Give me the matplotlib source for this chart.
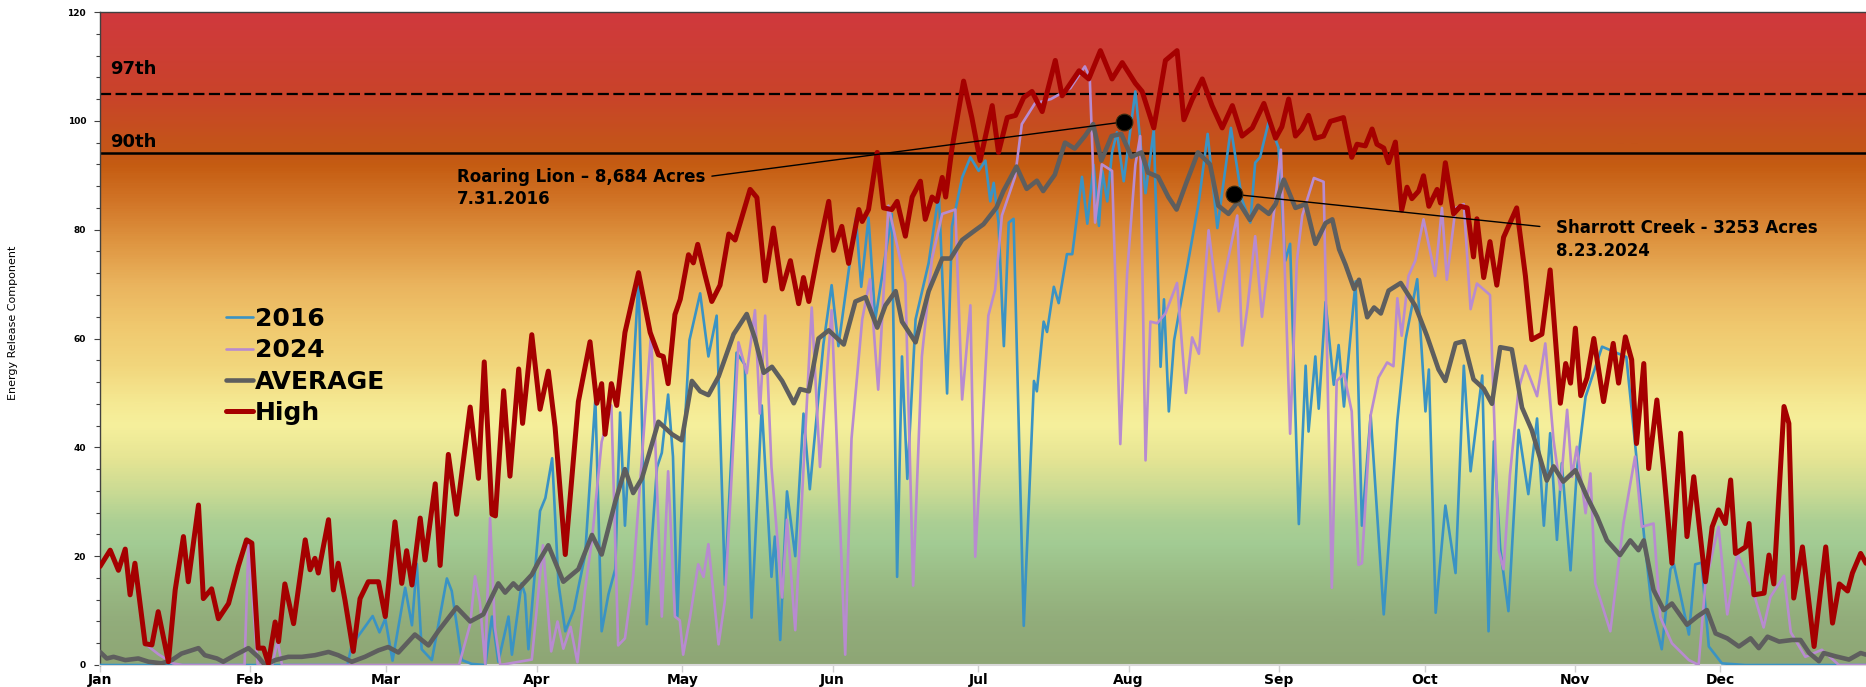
import matplotlib
matplotlib.use('Agg')
import matplotlib.pyplot as plt
import numpy as np
from matplotlib.colors import LinearSegmentedColormap
from matplotlib.ticker import MultipleLocator

# x axis: day of year (0 = Jan 1)
MONTH_STARTS = [0, 31, 59, 90, 120, 151, 181, 212, 243, 273, 304, 334]
MONTHS = ['Jan', 'Feb', 'Mar', 'Apr', 'May', 'Jun', 'Jul', 'Aug', 'Sep', 'Oct', 'Nov', 'Dec']

HIGH_DAYS = [0, 2.1, 3.8, 5.2, 6.2, 7.2, 9.3, 10.7, 12.0, 14.1, 15.5, 17.2, 18.2, 20.3, 21.3, 23.0,
             24.4, 26.5, 28.5, 30.2, 31.3, 32.6, 33.7, 34.7, 36.1, 36.8, 38.1, 39.9, 42.3, 43.3, 44.3,
             45.0, 47.1, 48.1, 49.1, 50.5, 52.2, 53.6, 55.3, 57.4, 58.8, 60.8, 62.2, 63.2, 64.3, 66.0,
             67.0, 69.1, 70.1, 71.8, 73.5, 76.3, 78.0, 79.2, 80.8, 81.5, 83.2, 84.5, 86.3, 87.1, 89.0,
             90.7, 92.4, 93.8, 95.9, 98.6, 101.0, 102.4, 103.4, 104.1, 105.4, 106.5, 108.2, 111.0,
             113.4, 115.1, 116.1, 117.1, 118.5, 119.6, 121.3, 122.3, 123.2, 124.7, 126.1, 127.8, 129.6,
             130.9, 134.0, 135.4, 137.1, 138.8, 140.6, 142.3, 144.0, 145.0, 146.1, 148.1, 150.2, 151.2,
             152.9, 154.3, 156.4, 157.1, 158.4, 160.2, 161.5, 163.2, 164.3, 166.0, 167.4, 169.1, 170.1,
             171.5, 172.5, 173.6, 174.3, 175.6, 178.0, 179.7, 181.4, 183.9, 185.2, 187.0, 188.7, 190.4,
             192.1, 194.2, 196.9, 198.3, 201.8, 203.8, 206.2, 208.6, 210.7, 213.4, 214.8, 217.2, 219.6,
             222.0, 223.4, 225.1, 227.2, 229.2, 231.3, 233.4, 235.4, 237.5, 239.9, 242.3, 243.6, 245.0,
             246.4, 247.7, 249.1, 250.5, 252.2, 253.6, 256.3, 258.0, 259.1, 260.8, 262.2, 263.2, 264.6,
             265.6, 267.0, 268.3, 269.4, 270.4, 271.8, 272.8, 273.9, 275.6, 276.3, 277.3, 279.0, 280.4,
             281.8, 283.1, 283.8, 285.2, 286.5, 287.9, 289.3, 292.0, 293.8, 295.1, 297.2, 298.9, 301.0,
             302.1, 303.1, 304.1, 305.2, 306.5, 307.9, 309.9, 311.9, 313.0, 314.4, 315.7, 316.7, 318.2,
             319.2, 320.9, 322.3, 324.0, 325.8, 327.1, 328.5, 330.9, 332.3, 333.6, 335.0, 336.1, 337.1,
             339.2, 339.9, 340.9, 343.0, 344.0, 345.0, 347.1, 348.1, 349.1, 350.9, 353.3, 355.7, 357.1,
             358.5, 360.2, 361.2, 362.9, 364.0]
HIGH_ERC = [18.1, 21.1, 17.4, 21.3, 12.9, 18.7, 3.9, 3.7, 9.8, 0.6, 13.8, 23.6, 15.3, 29.4, 12.2, 14.0,
            8.5, 11.3, 18.1, 23.0, 22.4, 3.1, 3.1, 0.3, 7.9, 4.3, 14.9, 7.6, 23.0, 17.5, 19.6,
            16.9, 26.7, 13.8, 18.7, 11.9, 2.5, 12.2, 15.3, 15.3, 8.9, 26.3, 15.0, 21.0, 14.7, 27.0,
            19.3, 33.3, 18.3, 38.7, 27.7, 47.4, 34.3, 55.7, 27.7, 27.4, 50.4, 34.7, 54.4, 44.4, 60.7,
            47.0, 54.0, 43.7, 20.3, 48.4, 59.4, 48.1, 51.7, 42.4, 51.7, 47.7, 61.1, 72.1,
            61.1, 57.0, 56.7, 51.7, 64.4, 67.2, 75.4, 73.9, 77.3, 71.7, 66.8, 69.8, 79.2,
            78.1, 87.4, 85.9, 70.6, 80.3, 69.1, 74.3, 66.4, 71.2, 66.8, 76.2, 85.2, 76.2,
            80.6, 73.8, 83.7, 81.5, 83.7, 94.2, 84.0, 83.7, 85.2, 78.8, 86.0, 88.9, 81.9,
            86.0, 85.2, 89.6, 86.0, 94.9, 107.3, 100.6, 92.7, 102.8, 94.2, 100.6, 101.0, 104.3,
            105.4, 101.7, 111.1, 104.6, 109.2, 107.7, 112.9, 107.7, 110.7, 106.9, 105.4, 98.7, 111.1,
            112.9, 100.2, 103.9, 107.7, 102.8, 98.7, 102.8, 97.2, 98.7, 103.2, 96.8, 98.9, 104.0,
            97.2, 98.5, 101.0, 96.8, 97.2, 99.9, 100.6, 93.3, 95.7, 95.4, 98.5, 95.7, 95.0,
            92.3, 96.1, 83.6, 87.8, 85.7, 87.1, 89.9, 84.3, 87.4, 84.9, 92.3, 82.9, 84.3,
            84.0, 75.0, 82.0, 71.2, 77.8, 69.8, 78.6, 84.0, 71.5, 59.8, 60.8, 72.6, 48.1,
            55.4, 51.8, 61.9, 49.5, 52.8, 60.0, 48.4, 59.1, 51.8, 60.3, 56.1, 40.7, 55.4,
            36.1, 48.7, 35.8, 18.7, 42.6, 23.6, 34.6, 15.3, 25.4, 28.5, 26.0, 34.0, 20.5,
            21.7, 26.0, 12.9, 13.2, 20.2, 14.9, 47.5, 44.4, 12.3, 21.7, 3.4, 21.7, 7.7,
            14.9, 13.6, 16.9, 20.5, 18.7]

AVG_DAYS = [0, 1.4, 2.8, 5.2, 7.9, 10.0, 12.7, 14.8, 16.8, 18.9, 20.3, 21.6, 24.1, 25.4, 27.8, 30.6,
            32.6, 34.0, 36.1, 38.8, 41.6, 44.3, 47.1, 49.1, 51.9, 54.6, 57.4, 59.4, 61.5, 64.9, 67.7,
            69.7, 73.5, 76.3, 79.0, 82.1, 83.5, 85.2, 86.3, 89.0, 90.4, 92.4, 95.5, 98.6, 101.4, 103.4,
            106.2, 108.2, 109.9, 111.7, 115.1, 117.9, 119.9, 122.0, 123.7, 125.4, 127.5, 130.6, 133.3,
            135.0, 136.8, 138.5, 140.6, 143.0, 144.3, 146.1, 148.1, 150.2, 153.3, 155.7, 157.8, 160.2,
            161.9, 164.0, 165.3, 168.1, 170.8, 173.6, 175.3, 177.7, 180.4, 182.1, 184.8, 186.2, 188.9,
            191.0, 193.1, 194.4, 196.8, 198.9, 200.9, 203.0, 204.7, 206.4, 208.5, 210.5, 212.6, 214.7,
            216.0, 218.1, 220.2, 221.9, 223.9, 226.3, 228.8, 230.5, 232.6, 234.6, 237.0, 238.7, 240.9,
            242.3, 244.0, 246.4, 248.5, 250.5, 252.6, 254.0, 255.4, 256.7, 258.5, 259.5, 261.2, 262.6,
            264.0, 265.6, 268.1, 271.1, 273.5, 275.9, 277.3, 279.4, 281.1, 283.1, 285.2, 286.9, 288.6,
            291.0, 293.1, 295.1, 298.2, 299.6, 301.6, 304.1, 306.5, 308.6, 310.6, 313.3, 315.4, 317.1,
            318.2, 320.2, 322.3, 324.0, 327.1, 329.2, 331.2, 333.0, 335.4, 337.8, 340.2, 341.9, 343.7,
            346.1, 348.8, 350.5, 352.3, 354.3, 355.3, 357.7, 360.5, 362.9, 364.0]
AVG_ERC = [2.4, 1.2, 1.5, 0.9, 1.2, 0.6, 0.3, 0.9, 2.1, 2.7, 3.1, 1.8, 1.2, 0.6, 1.8, 3.1,
           1.5, 0.0, 0.9, 1.5, 1.5, 1.8, 2.4, 1.8, 0.6, 1.5, 2.7, 3.3, 2.3, 5.6, 3.6,
           6.2, 10.6, 8.0, 9.3, 15.0, 13.3, 15.0, 14.0, 16.6, 19.0, 22.0, 15.3, 17.6, 23.9, 20.3,
           30.0, 36.0, 31.6, 34.3, 44.7, 42.4, 41.3, 52.2, 50.3, 49.6, 53.0, 60.8, 64.5,
           60.0, 53.7, 54.8, 52.2, 48.1, 50.7, 50.3, 60.0, 61.5, 58.9, 66.8, 67.6, 62.0,
           66.1, 68.7, 63.1, 59.3, 68.7, 74.7, 74.7, 78.1, 79.9, 81.0, 84.1, 87.1, 91.6,
           87.5, 89.0, 87.1, 90.1, 96.0, 94.9, 97.2, 99.4, 92.7, 97.2, 97.6, 93.4, 94.2,
           90.5, 89.7, 86.0, 83.7, 88.6, 94.2, 92.0, 84.4, 82.9, 85.2, 81.8, 84.4, 82.9,
           84.7, 89.2, 84.0, 84.7, 77.4, 81.2, 81.9, 76.4, 73.6, 69.1, 70.8, 63.9, 65.7,
           64.6, 68.8, 70.2, 66.0, 60.5, 54.3, 52.2, 59.1, 59.5, 52.5, 50.8, 48.0, 58.4,
           58.0, 47.3, 43.2, 33.9, 36.5, 33.7, 35.8, 30.9, 27.2, 22.9, 20.2, 22.9, 21.1,
           22.9, 13.8, 10.1, 11.3, 7.4, 8.9, 10.1, 5.8, 4.9, 3.4, 4.9, 3.1, 5.2,
           4.3, 4.6, 4.6, 2.2, 0.7, 2.2, 1.6, 1.0, 2.2, 1.9]

Y2016_DAYS = [0, 51.0, 51.9, 54.6, 56.2, 57.6, 58.8, 60.3, 62.9, 64.3, 65.3, 66.3, 68.4, 71.5, 72.5,
              74.6, 76.6, 79.4, 80.8, 82.1, 84.2, 84.9, 86.9, 87.6, 88.3, 90.7, 91.8, 93.2, 94.5, 95.9,
              97.7, 98.6, 100.0, 102.1, 103.4, 104.8, 106.2, 107.2, 108.2, 111.0, 112.7, 113.7, 114.8,
              115.8, 117.1, 118.1, 119.0, 120.6, 121.5, 123.7, 125.4, 127.1, 128.8, 131.2, 132.9, 134.3,
              136.4, 138.4, 139.1, 140.2, 141.6, 143.3, 145.0, 146.3, 149.1, 150.8, 152.2, 155.8, 156.9,
              158.4, 159.8, 163.2, 164.3, 165.3, 166.4, 168.1, 170.8, 172.9, 174.6, 175.6, 177.7, 179.4,
              181.1, 182.5, 183.5, 184.2, 185.2, 186.3, 187.3, 188.3, 190.4, 192.5, 193.1, 194.5, 195.2,
              196.6, 197.6, 199.3, 200.4, 202.4, 203.5, 204.8, 205.9, 206.6, 207.6, 208.6, 209.6, 211.0,
              213.4, 215.5, 217.2, 218.6, 219.3, 220.3, 221.4, 223.8, 226.5, 228.3, 230.3, 233.1, 235.4,
              237.1, 238.1, 239.1, 240.9, 242.9, 244.3, 245.3, 247.1, 248.5, 249.1, 250.5, 251.2, 252.6,
              254.3, 255.3, 256.4, 258.8, 260.1, 261.9, 264.6, 267.4, 269.1, 271.5, 273.2, 273.9, 275.3,
              277.3, 279.4, 281.1, 282.5, 284.9, 286.2, 287.3, 288.6, 290.3, 292.4, 294.4, 296.2, 297.6,
              298.9, 300.3, 301.3, 303.1, 304.4, 306.2, 309.6, 314.6, 316.4, 318.4, 319.9, 321.9, 323.7,
              324.4, 327.5, 328.8, 330.1, 331.6, 334.3, 339.1, 364.0]
Y2016_ERC = [0, 0, 3.7, 7.0, 9.0, 6.0, 8.5, 0.8, 14.2, 7.3, 18.6, 2.9, 0.9, 15.9, 13.6,
             0.9, 0.2, 0, 8.9, 0.6, 8.9, 1.9, 15.0, 13.0, 2.9, 28.3, 30.7, 38.0, 15.0, 6.2,
             10.2, 14.2, 20.3, 49.0, 6.2, 13.0, 17.6, 46.4, 25.6, 71.1, 7.5, 22.3, 36.3,
             39.0, 49.7, 38.3, 8.9, 45.0, 59.7, 68.3, 56.7, 64.2, 14.7, 57.4, 55.2, 8.7,
             47.7, 16.2, 23.6, 4.6, 31.9, 20.0, 46.2, 32.3, 58.9, 69.8, 58.6, 82.2, 69.5,
             82.2, 63.5, 82.9, 16.2, 56.7, 34.2, 63.5, 73.9, 86.7, 49.9, 80.6, 89.6, 93.3,
             90.8, 92.7, 85.2, 88.6, 81.3, 58.6, 81.3, 82.0, 7.2, 52.2, 50.3, 63.1, 61.2,
             69.5, 66.5, 75.5, 75.5, 89.7, 81.1, 91.9, 80.7, 90.8, 85.2, 94.2, 97.9, 88.9,
             105.4, 86.7, 98.3, 54.8, 67.2, 46.6, 59.7, 71.7, 85.2, 97.6, 80.3, 98.7, 85.5,
             81.3, 92.3, 93.3, 99.9, 95.1, 74.3, 77.4, 25.9, 55.0, 42.9, 56.7, 47.1, 66.7,
             51.5, 58.8, 47.5, 70.5, 25.6, 45.9, 9.3, 44.9, 59.8, 70.9, 46.6, 54.3, 9.6,
             29.3, 16.9, 55.0, 35.6, 53.2, 6.2, 41.1, 21.4, 9.9, 43.2, 31.4, 45.3, 25.6,
             42.6, 23.0, 37.1, 17.4, 35.8, 49.3, 58.5, 56.6, 40.7, 22.4, 10.2, 2.9, 17.6,
             18.5, 5.6, 18.5, 18.8, 3.4, 0.3, 0, 0]

Y2024_DAYS = [0, 2.1, 3.8, 5.2, 6.2, 7.2, 9.3, 12.0, 15.0, 17.0, 29.8, 30.6, 32.5, 35.5, 36.6, 37.5,
              74.0, 76.3, 77.3, 78.3, 79.4, 80.4, 81.4, 82.5, 89.0, 91.3, 93.0, 94.3, 95.5, 97.0, 98.4,
              100.0, 101.4, 103.4, 105.4, 106.8, 108.2, 109.9, 113.6, 115.8, 117.1, 118.5, 119.5, 120.2,
              121.6, 123.3, 124.4, 125.4, 127.5, 128.8, 130.2, 131.6, 133.3, 135.0, 136.0, 137.1, 138.4,
              140.6, 141.6, 143.3, 146.7, 148.4, 150.8, 153.6, 154.9, 157.1, 158.7, 160.4, 162.5, 166.0,
              167.6, 169.4, 171.5, 173.6, 176.3, 177.7, 179.4, 180.4, 181.7, 183.1, 184.5, 185.9, 188.6,
              190.0, 192.7, 196.0, 200.0, 203.0, 204.0, 205.1, 206.5, 208.6, 210.3, 211.7, 213.4, 214.4,
              215.5, 216.5, 217.9, 219.6, 222.0, 223.8, 225.1, 226.5, 228.5, 230.6, 232.0, 234.4, 235.4,
              236.5, 238.1, 239.5, 241.3, 243.4, 245.3, 246.7, 247.8, 250.2, 252.2, 253.9, 254.9, 256.4,
              258.0, 259.4, 260.1, 261.9, 263.5, 265.3, 266.6, 267.4, 268.3, 269.7, 271.1, 272.8, 275.2,
              276.6, 277.6, 279.4, 281.1, 282.5, 283.8, 286.5, 288.3, 289.3, 290.6, 292.4, 293.8, 296.2,
              297.9, 299.6, 301.0, 302.4, 303.4, 304.4, 306.2, 307.2, 308.2, 311.3, 314.0, 316.4, 317.8,
              320.2, 321.6, 324.0, 327.5, 329.5, 330.9, 333.6, 335.4, 337.5, 340.5, 342.9, 344.3, 347.1,
              348.5, 351.5, 354.9, 358.4, 364.0]
Y2024_ERC = [18.1, 21.1, 17.4, 21.3, 12.9, 18.7, 3.9, 2.0, 0.3, 0, 0, 22.4, 0, 0, 4.5, 0,
             0, 7.5, 16.3, 11.6, 0.2, 27.0, 6.9, 0, 1.0, 22.0, 2.5, 8.0, 3.0, 7.0, 0.5,
             14.0, 23.0, 41.0, 47.7, 3.6, 4.9, 16.3, 61.1, 8.9, 35.6, 8.9, 8.2, 1.9,
             8.7, 18.5, 16.2, 22.2, 3.8, 11.8, 34.9, 59.3, 53.6, 65.2, 46.2, 64.2, 36.4,
             12.4, 26.7, 6.4, 65.7, 36.4, 65.2, 1.9, 41.6, 63.5, 70.9, 50.6, 84.4, 70.2,
             14.6, 56.7, 74.7, 82.9, 83.7, 48.8, 66.1, 19.9, 41.0, 64.2, 69.0, 82.6, 89.7,
             99.4, 103.2, 104.0, 106.0, 110.0, 108.0, 81.3, 92.0, 90.8, 40.6, 71.9, 91.9, 97.2,
             37.6, 63.1, 62.8, 64.6, 70.2, 50.0, 60.2, 57.2, 79.9, 65.0, 72.4, 82.6, 58.7,
             65.7, 78.8, 64.0, 77.8, 94.7, 42.5, 74.3, 82.6, 89.5, 88.8, 14.2, 52.2, 53.5,
             46.6, 18.4, 18.7, 45.9, 52.8, 55.6, 54.9, 67.4, 60.5, 71.5, 74.3, 81.9, 71.5,
             84.0, 70.8, 84.0, 84.7, 65.4, 70.1, 68.0, 21.1, 17.6, 34.9, 50.8, 55.0, 49.4,
             59.1, 41.3, 32.2, 46.9, 34.6, 40.1, 27.9, 35.2, 15.0, 6.2, 26.0, 38.3, 25.4,
             26.0, 8.8, 4.0, 0.9, 0, 15.0, 25.4, 9.3, 20.5, 14.3, 6.9, 12.5, 16.4,
             6.0, 1.5, 2.8, 0, 0]

P90 = 94
P97 = 105

FIRE_NAMES = ['Roaring Lion \u2013 8,684 Acres\n7.31.2016', 'Sharrott Creek - 3253 Acres\n8.23.2024']
FIRE_DAYS = [211, 233.7]
FIRE_ERC = [99.8, 86.5]
FIRE_TEXT_POS = [(73.5, 87.6), (300.2, 78.2)]

# background colour ramp (ERC level -> colour)
BG_LEVELS = [0, 8, 16, 22, 26, 32, 38, 44, 48, 55, 62, 70, 78, 85, 92, 96, 105, 120]
BG_COLORS = ['#8ea675', '#92ad7b', '#9bbd86', '#a2cb93', '#abcf94', '#cbdb93', '#e6e594',
             '#f6f09c', '#f5e993', '#f2d67c', '#f0c96f', '#eab45e', '#de9440', '#d27628',
             '#c55c12', '#c4541a', '#c9432a', '#d0393d']

fig = plt.figure(figsize=(18.66, 6.87), dpi=100)
ax = fig.add_axes([100 / 1866, 22 / 687, 1766 / 1866, 653 / 687])

cmap = LinearSegmentedColormap.from_list(
    'erc', list(zip(np.array(BG_LEVELS) / 120.0, BG_COLORS)))
grad = np.linspace(0, 120, 600).reshape(-1, 1)
ax.imshow(grad, extent=[0, 364, 0, 120], origin='lower', aspect='auto',
          cmap=cmap, vmin=0, vmax=120, zorder=0)

ax.axhline(P97, color='black', lw=1.6, ls=(0, (5, 2)), zorder=2)
ax.axhline(P90, color='black', lw=1.8, zorder=2)

line_kw = dict(solid_joinstyle='round', solid_capstyle='round')
ax.plot(Y2016_DAYS, Y2016_ERC, color='#3a93c4', lw=1.9, label='2016', zorder=3, **line_kw)
ax.plot(Y2024_DAYS, Y2024_ERC, color='#b88bd0', lw=1.9, label='2024', zorder=4, **line_kw)
ax.plot(AVG_DAYS, AVG_ERC, color='#5e5e5e', lw=3.3, label='AVERAGE', zorder=5, **line_kw)
ax.plot(HIGH_DAYS, HIGH_ERC, color='#a50000', lw=3.6, label='High', zorder=6, **line_kw)

ax.plot(FIRE_DAYS, FIRE_ERC, 'o', color='black', ms=12, mec='#3a2a10', mew=0.8, zorder=8)

ax.annotate(FIRE_NAMES[0], xy=(FIRE_DAYS[0], FIRE_ERC[0]), xytext=FIRE_TEXT_POS[0],
            ha='left', va='center', fontsize=12, fontweight='bold', linespacing=1.3,
            arrowprops=dict(arrowstyle='-', color='black', lw=1.0, relpos=(1.0, 0.78),
                            shrinkA=3, shrinkB=0), zorder=7)
ax.annotate(FIRE_NAMES[1], xy=(FIRE_DAYS[1], FIRE_ERC[1]), xytext=FIRE_TEXT_POS[1],
            ha='left', va='center', fontsize=12, fontweight='bold', linespacing=1.3,
            arrowprops=dict(arrowstyle='-', color='black', lw=1.0, relpos=(0.0, 0.78),
                            shrinkA=10, shrinkB=0), zorder=7)

ax.text(2.1, 108.6, '97th', fontsize=13, fontweight='bold', va='baseline', zorder=7)
ax.text(2.0, 95.2, '90th', fontsize=13, fontweight='bold', va='baseline', zorder=7)

leg = ax.legend(loc='upper left', bbox_to_anchor=(0.0645, 0.567), frameon=False,
                prop={'weight': 'bold', 'size': 18}, handlelength=1.05,
                handletextpad=0.1, labelspacing=0.29, borderpad=0)

ax.set_xlim(0, 364)
ax.set_ylim(0, 120)
ax.set_xticks(MONTH_STARTS)
ax.set_xticklabels(MONTHS, fontweight='bold', fontsize=10)
ax.yaxis.set_major_locator(MultipleLocator(20))
ax.yaxis.set_minor_locator(MultipleLocator(4))
for lbl in ax.get_yticklabels():
    lbl.set_fontweight('bold')
ax.tick_params(axis='y', which='major', length=4, width=0.8, color='#404040',
               labelsize=6.5, pad=6)
ax.tick_params(axis='y', which='minor', length=3, width=0.8, color='#404040')
ax.tick_params(axis='x', length=5, width=1, color='#d0d0d0', pad=1)

for side in ['top', 'left']:
    ax.spines[side].set_color('#404040')
    ax.spines[side].set_linewidth(1.0)
ax.spines['bottom'].set_color('#d9d9d9')
ax.spines['bottom'].set_linewidth(1.5)
ax.spines['right'].set_visible(False)

fig.text(13 / 1866, 0.53, 'Energy Release Component', rotation=90,
         ha='center', va='center', fontsize=8)

fig.savefig('out.png', dpi=100)
